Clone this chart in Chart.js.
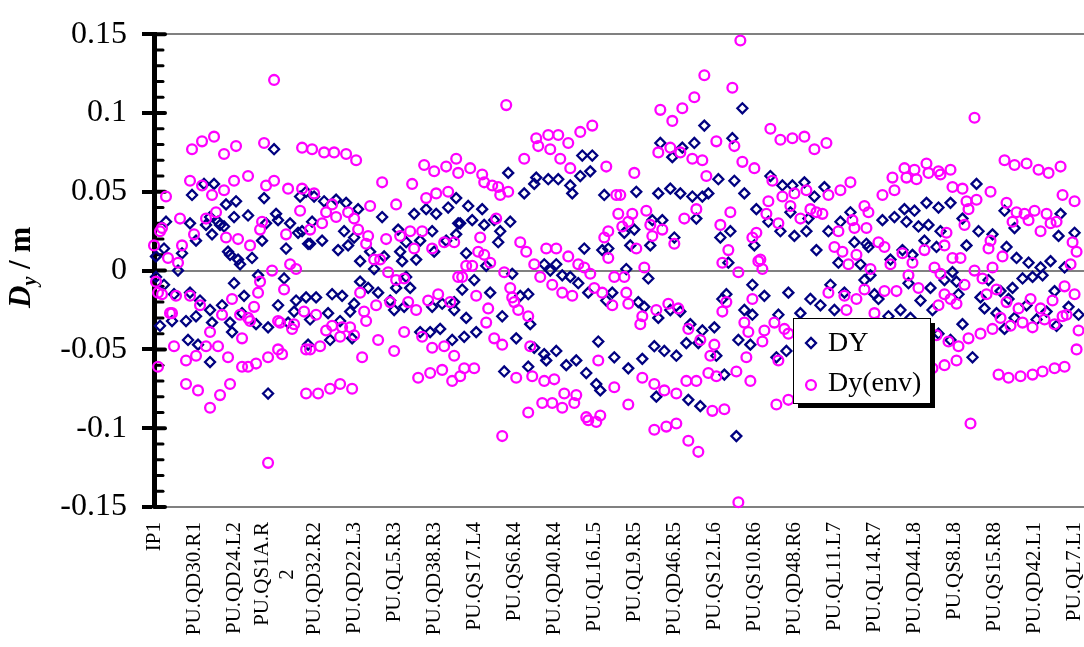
<!DOCTYPE html>
<html><head><meta charset="utf-8">
<script src="https://cdn.jsdelivr.net/npm/chart.js@4.4.1/dist/chart.umd.min.js"></script>
<style>
html,body{margin:0;padding:0;overflow:hidden;background:#fff;width:1084px;height:647px}
#wrap{position:absolute;left:0;top:0;width:1115px;height:647px}
</style></head>
<body><div id="wrap"><canvas id="c" width="1115" height="647"></canvas></div>
<script>
// element index (along the ring) of each labelled pick-up
const tickPos = [0,20,40,54,80,100,120,140,160,180,200,220,240,260,280,300,320,340,360,380,400,420,440,460];
const tickLabels = ['IP1','PU.QD30.R1','PU.QD24.L2',['PU.QS1A.R','2         '],'PU.QD32.R2','PU.QD22.L3','PU.QL5.R3','PU.QD38.R3','PU.QS17.L4','PU.QS6.R4','PU.QD40.R4','PU.QL16.L5','PU.QL9.R5','PU.QD46.R5','PU.QS12.L6','PU.QS10.R6','PU.QD48.R6','PU.QL11.L7','PU.QL14.R7','PU.QD44.L8','PU.QS8.L8','PU.QS15.R8','PU.QD42.L1','PU.QL7.L1'];
const yTickValues = [-0.15,-0.14,-0.13,-0.12,-0.11,-0.10,-0.09,-0.08,-0.07,-0.06,-0.05,-0.04,-0.03,-0.02,-0.01,0,0.01,0.02,0.03,0.04,0.05,0.06,0.07,0.08,0.09,0.10,0.11,0.12,0.13,0.14,0.15];
const seriesNames = ['DY','Dy(env)'];
const yTitleParts = ['D','y',' / m'];

// DY: [element index, value in m]
const dyData = [
[60,.077],[19,.048],[25,.055],[30,.055],[36,.042],[41,.044],[55,.046],[61,.036],[73,.047],[76,.050],[18,.030],[6,.031],[29,.023],[35,.028],[40,.034],[47,.035],[56,.030],[68,.030],[72,.024],[54,.019],[66,.014],[37,.012],[42,.007],[49,.008],[5,.014],[12,.000],[1,.009],[21,.019],[32,.031],[77,.017],[14,.011],[26,.029],[28,.034],[33,.029],[38,.010],[43,.004],[62,.032],
[1,-.004],[5,-.009],[10,-.015],[18,-.014],[23,-.019],[28,-.025],[34,-.022],[40,-.008],[45,-.016],[52,-.003],[38,-.033],[16,-.032],[9,-.032],[21,-.029],[29,-.033],[44,-.027],[51,-.034],[57,-.036],[62,-.022],[65,-.005],[71,-.019],[76,-.017],[67,-.033],[3,-.035],[17,-.044],[22,-.047],[28,-.058],[39,-.039],[57,-.078],[77,-.047],[70,-.026],
[80,.047],[85,.044],[91,.045],[96,.043],[102,.039],[114,.034],[130,.036],[136,.039],[141,.036],[147,.040],[151,.046],[74,.025],[79,.031],[78,.017],[84,.019],[92,.013],[95,.025],[97,.016],[100,.021],[103,.006],[108,.012],[110,.001],[115,.009],[122,.026],[123,.012],[124,.006],[126,.018],[131,.007],[133,.019],[139,.025],[140,.012],[146,.019],[152,.030],
[81,-.017],[89,-.015],[94,-.016],[100,-.021],[103,-.007],[107,-.011],[112,-.014],[118,-.019],[121,-.011],[126,-.004],[128,-.011],[98,-.026],[87,-.027],[78,-.031],[93,-.032],[120,-.025],[125,-.023],[139,-.023],[144,-.021],[150,-.020],[88,-.044],[99,-.043],[133,-.039],[138,-.039],[143,-.037],[149,-.044],
[177,.062],[185,.049],[191,.059],[197,.058],[202,.058],[208,.054],[209,.049],[190,.055],[214,.073],[219,.073],[213,.060],[218,.063],[225,.048],[157,.041],[164,.039],[153,.030],[159,.032],[165,.029],[170,.032],[178,.031],[173,.025],[172,.018],[156,.011],[151,.023],[215,.014],[224,.013],[195,.004],[201,.004],[198,.000],[204,-.003],[208,-.004],[212,-.008],[166,.003],[179,-.002],[160,-.006],[154,-.012],[168,-.014],[187,-.015],[183,-.016],[217,-.014],[226,-.019],[150,-.025],[156,-.030],[174,-.029],[161,-.039],[155,-.042],[188,-.034],[181,-.043],[222,-.045],[190,-.049],[195,-.053],[201,-.051],[196,-.057],[206,-.060],[211,-.057],[216,-.065],[221,-.072],[223,-.076],[175,-.064],[187,-.061],
[294,.103],[275,.092],[289,.084],[270,.081],[253,.081],[264,.078],[259,.072],[282,.058],[290,.057],[295,.049],[301,.039],[241,.050],[252,.049],[258,.052],[263,.049],[269,.047],[274,.047],[277,.049],[271,.033],[254,.032],[249,.032],[240,.026],[235,.024],[260,.021],[248,.016],[227,.014],[238,.016],[283,.021],[288,.025],[287,.005],[300,.016],
[236,.001],[247,-.005],[229,-.014],[242,-.020],[245,-.023],[252,-.030],[258,-.025],[263,-.026],[268,-.034],[274,-.038],[280,-.036],[281,-.054],[285,-.066],[284,-.018],[286,-.015],[295,-.025],[299,-.009],[292,-.044],[298,-.047],[230,-.055],[237,-.062],[244,-.056],[250,-.048],[255,-.051],[261,-.054],[266,-.046],[272,-.046],[251,-.080],[267,-.082],[273,-.086],[291,-.105],
[308,.060],[314,.054],[319,.054],[325,.056],[330,.047],[335,.053],[307,.031],[313,.025],[318,.037],[320,.022],[326,.025],[327,.033],[337,.025],[331,.013],[343,.031],[348,.037],[342,.005],[350,.018],[356,.017],[357,.015],[364,.032],[370,.034],[375,.039],[376,.031],[380,.038],[368,.007],[374,.013],[353,.004],[358,-.003],
[305,-.016],[317,-.014],[328,-.018],[333,-.022],[338,-.009],[340,-.025],[345,-.014],[355,-.006],[360,-.015],[362,-.018],[367,-.029],[373,-.025],[378,-.030],[312,-.028],[323,-.027],[299,-.028],[316,-.051],[311,-.055],
[411,.055],[386,.043],[392,.040],[398,.043],[404,.033],[425,.038],[430,.027],[453,.036],[452,.022],[460,.024],[382,.028],[387,.029],[393,.025],[412,.025],[419,.023],[385,.019],[391,.015],[406,.016],[426,.015],[431,.008],[437,.005],[443,.002],[448,.006],[379,.010],[399,-.001],[455,.002],[401,-.007],[417,-.006],[429,-.011],[434,-.005],[439,-.004],[444,-.003],[423,-.013],[388,-.011],[395,-.006],[377,-.008],[383,-.019],[413,-.017],
[386,-.042],[392,-.040],[398,-.044],[404,-.034],[409,-.055],[415,-.024],[421,-.027],[425,-.037],[430,-.030],[436,-.022],[441,-.031],[446,-.026],[451,-.035],[457,-.023],[462,-.028],[389,-.025],[402,-.015],[427,-.018],[450,-.013]
];

// Dy(env): [element index, value in m]
const envData = [
[60,.121],[19,.077],[24,.082],[30,.085],[35,.074],[41,.079],[55,.081],[74,.078],[18,.057],[24,.054],[29,.048],[35,.051],[40,.057],[47,.060],[56,.054],[60,.057],[67,.052],[74,.052],[6,.047],[13,.033],[26,.033],[31,.037],[73,.038],[4,.027],[3,.025],[20,.023],[36,.021],[42,.020],[48,.016],[54,.031],[53,.026],[66,.023],[78,.026],[0,.016],[14,.016],[7,.008],[12,.005],[59,.000],[68,.004],[71,.001],
[1,-.007],[2,-.014],[4,-.015],[11,-.016],[18,-.016],[23,-.022],[8,-.027],[9,-.027],[34,-.028],[39,-.018],[47,-.030],[48,-.032],[50,-.023],[65,-.012],[62,-.032],[63,-.033],[70,-.034],[69,-.037],[75,-.026],[28,-.039],[44,-.043],[10,-.048],[16,-.057],[21,-.054],[26,-.048],[32,-.048],[37,-.055],[44,-.061],[47,-.061],[51,-.059],[57,-.055],[62,-.050],[64,-.053],[76,-.050],[2,-.061],[16,-.072],[22,-.076],[28,-.087],[33,-.079],[38,-.072],[57,-.122],[76,-.078],[52,-.014],[53,-.007],[43,-.028],
[79,.077],[85,.075],[90,.075],[96,.074],[101,.070],[135,.067],[140,.063],[146,.066],[151,.071],[152,.062],[80,.049],[114,.056],[129,.055],[108,.041],[121,.042],[136,.046],[141,.049],[147,.050],[89,.042],[86,.037],[91,.034],[97,.037],[100,.033],[102,.026],[84,.030],[107,.022],[106,.017],[116,.020],[123,.022],[128,.025],[134,.025],[130,.014],[139,.014],[145,.018],[150,.018],[110,.007],[113,.007],
[117,-.001],[121,-.006],[125,-.005],[152,-.004],[103,-.014],[111,-.022],[118,-.020],[127,-.020],[131,-.025],[137,-.019],[142,-.015],[148,-.020],[81,-.028],[105,-.026],[106,-.032],[86,-.038],[89,-.035],[94,-.036],[98,-.036],[93,-.042],[100,-.041],[125,-.039],[134,-.042],[112,-.044],[120,-.051],[104,-.055],[78,-.050],[83,-.048],[139,-.049],[145,-.048],[150,-.054],[132,-.068],[138,-.065],[144,-.063],[149,-.070],[82,-.078],[88,-.075],[93,-.072],[99,-.075],
[176,.105],[191,.084],[197,.086],[202,.086],[207,.081],[213,.088],[219,.092],[192,.079],[198,.077],[203,.071],[208,.065],[185,.071],[226,.066],[158,.065],[164,.061],[165,.056],[169,.054],[172,.053],[173,.048],[177,.050],[171,.033],[163,.021],[183,.018],[186,.012],[196,.014],[201,.014],[207,.009],[212,.004],[215,.002],[218,-.002],[225,.021],[227,.008],[162,.012],[165,.010],[168,.005],[159,.003],[156,.003],[154,-.004],[175,-.001],[190,.004],[193,-.004],[199,-.009],[204,-.014],[209,-.016],[220,-.011],[224,-.014],[178,-.011],[179,-.017],[180,-.020],[182,-.025],[187,-.029],[161,-.016],[167,-.024],[166,-.033],[170,-.043],[174,-.047],[188,-.048],[155,-.062],[160,-.062],[153,-.067],[181,-.068],[189,-.067],[195,-.070],[200,-.069],[205,-.078],[211,-.079],[194,-.084],[199,-.084],[204,-.087],[210,-.084],[187,-.090],[216,-.093],[217,-.095],[221,-.096],[223,-.092],[222,-.057],[174,-.105],
[293,.146],[275,.124],[289,.116],[270,.110],[253,.102],[264,.103],[259,.095],[281,.082],[290,.079],[252,.075],[258,.078],[263,.075],[269,.071],[274,.070],[294,.069],[300,.065],[276,.060],[240,.062],[231,.048],[233,.048],[232,.036],[239,.036],[246,.038],[237,.031],[234,.028],[227,.025],[248,.029],[249,.022],[254,.026],[260,.017],[265,.033],[271,.039],[288,.037],[283,.029],[287,.013],[284,.005],[301,.024],[302,.006],[245,.002],[292,-.001],[241,.014],
[230,-.004],[235,-.004],[236,-.014],[237,-.021],[229,-.022],[244,-.029],[243,-.034],[251,-.025],[257,-.021],[262,-.024],[267,-.037],[273,-.044],[280,-.047],[278,-.054],[286,-.020],[284,-.026],[295,-.033],[297,-.039],[296,-.055],[299,-.018],[230,-.074],[244,-.068],[250,-.072],[255,-.076],[261,-.078],[266,-.070],[271,-.070],[277,-.065],[281,-.067],[291,-.064],[298,-.070],[237,-.085],[279,-.089],[285,-.088],[250,-.101],[256,-.099],[261,-.097],[267,-.108],[272,-.115],[292,-.147],
[308,.090],[313,.083],[319,.084],[325,.085],[330,.077],[336,.081],[309,.057],[314,.047],[320,.049],[326,.051],[337,.048],[343,.051],[348,.056],[369,.059],[375,.065],[380,.064],[376,.059],[370,.051],[364,.048],[318,.041],[307,.044],[306,.036],[323,.033],[328,.039],[331,.037],[334,.036],[349,.032],[355,.041],[357,.037],[356,.027],[350,.027],[342,.025],[312,.030],[299,.021],[340,.015],[344,.012],[347,.004],[351,.010],[362,.018],[365,.015],[368,.004],[374,.011],[379,.005],[358,.001],[377,-.003],[303,.007],[304,.001],
[337,-.014],[345,-.016],[355,-.012],[351,-.018],[365,-.013],[371,-.013],[346,-.025],[360,-.027],[361,-.033],[310,-.033],[315,-.037],[317,-.040],[326,-.035],[305,-.038],[304,-.045],[312,-.057],[311,-.085],[317,-.082],
[410,.097],[425,.070],[430,.067],[436,.068],[442,.064],[447,.062],[453,.066],[386,.068],[392,.063],[398,.064],[381,.058],[387,.062],[393,.061],[399,.053],[404,.052],[418,.050],[454,.048],[460,.044],[406,.044],[411,.045],[407,.039],[426,.043],[431,.037],[435,.036],[440,.038],[446,.036],[451,.031],[429,.031],[437,.032],[443,.025],[448,.030],[405,.029],[396,.024],[395,.016],[418,.019],[417,.014],[424,.009],[419,.002],[410,.000],[403,.008],[399,.008],[385,.013],[390,.002],[393,-.002],[459,.018],[461,.012],[458,.004],[382,-.011],[395,-.015],[401,-.021],[416,-.015],[455,-.010],
[389,-.062],[395,-.060],[401,-.057],[422,-.066],[427,-.068],[433,-.067],[439,-.066],[444,-.064],[450,-.062],[455,-.061],[461,-.050],[408,-.097],[391,-.041],[397,-.045],[402,-.048],[407,-.043],[413,-.040],[419,-.037],[423,-.030],[428,-.035],[434,-.033],[439,-.036],[445,-.031],[450,-.034],[456,-.028],[462,-.038],[392,-.022],[398,-.018],[405,-.009],[414,-.005],[421,-.012],[426,-.020],[432,-.024],[438,-.018],[443,-.024],[449,-.019],[454,-.029],[460,-.015]
];

const SERIF = "'Liberation Serif','Times New Roman',serif";
const NAVY = '#000080', MAGENTA = '#FF00FF';
const DIAMOND_R = 5, CIRCLE_R = 4.9, MARK_W = 2.3;
const isMajor = v => Math.abs(Math.round(v*100)) % 5 === 0;

function drawMarker(ctx, style, x, y, r, color){
  ctx.save();
  ctx.strokeStyle = color; ctx.lineWidth = MARK_W;
  ctx.beginPath();
  if (style === 'rectRot') { ctx.moveTo(x-r,y); ctx.lineTo(x,y-r); ctx.lineTo(x+r,y); ctx.lineTo(x,y+r); ctx.closePath(); }
  else { ctx.arc(x,y,r,0,Math.PI*2); }
  ctx.stroke(); ctx.restore();
}

const decor = {
  id:'decor',
  beforeDatasetsDraw(chart){
    const ctx = chart.ctx, ys = chart.scales.y, left = chart.chartArea.left;
    ctx.save(); ctx.strokeStyle = '#000'; ctx.lineCap = 'round';
    yTickValues.forEach(v=>{
      const y = ys.getPixelForValue(v);
      const maj = isMajor(v);
      ctx.lineWidth = maj ? 4 : 3;
      ctx.beginPath(); ctx.moveTo(left, y); ctx.lineTo(left + (maj ? 11 : 9), y); ctx.stroke();
    });
    ctx.restore();
  },
  afterDraw(chart){
    const ctx = chart.ctx;
    // y axis title  D_y / m
    ctx.save();
    ctx.translate(30, 308); ctx.rotate(-Math.PI/2);
    ctx.fillStyle = '#000'; ctx.textBaseline = 'alphabetic'; ctx.textAlign = 'left';
    ctx.font = "bold italic 31px " + SERIF;
    ctx.fillText(yTitleParts[0], 0, 0);
    let w = ctx.measureText(yTitleParts[0]).width;
    ctx.font = "bold italic 20px " + SERIF;
    ctx.fillText(yTitleParts[1], w, 6);
    w += ctx.measureText(yTitleParts[1]).width;
    ctx.font = "bold 31px " + SERIF;
    ctx.fillText(yTitleParts[2], w, 0);
    ctx.restore();
    // legend box with shadow
    const lx = 793, ly = 318, lw = 137, lh = 85;
    ctx.save();
    ctx.fillStyle = '#000'; ctx.fillRect(lx+5, ly+5, lw, lh);
    ctx.fillStyle = '#fff'; ctx.fillRect(lx, ly, lw, lh);
    ctx.strokeStyle = '#000'; ctx.lineWidth = 1; ctx.strokeRect(lx+0.5, ly+0.5, lw, lh);
    const ds = chart.data.datasets;
    drawMarker(ctx, 'rectRot', 811, 343, DIAMOND_R, NAVY);
    drawMarker(ctx, 'circle', 811, 385, CIRCLE_R, MAGENTA);
    ctx.fillStyle = '#000'; ctx.font = "28px " + SERIF; ctx.textBaseline = 'alphabetic';
    ctx.fillText(ds[0].label, 828, 351);
    ctx.fillText(ds[1].label, 828, 391);
    ctx.restore();
  }
};

new Chart(document.getElementById('c'), {
  type: 'scatter',
  data: {
    datasets: [
      { label: seriesNames[0], data: dyData.map(p=>({x:p[0], y:p[1]})), pointStyle:'rectRot', pointRadius:DIAMOND_R,
        pointBorderWidth:MARK_W, borderColor:NAVY, pointBorderColor:NAVY, backgroundColor:'rgba(0,0,0,0)', pointBackgroundColor:'rgba(0,0,0,0)', order:1, clip:false },
      { label: seriesNames[1], data: envData.map(p=>({x:p[0], y:p[1]})), pointStyle:'circle', pointRadius:CIRCLE_R,
        pointBorderWidth:MARK_W, borderColor:MAGENTA, pointBorderColor:MAGENTA, backgroundColor:'rgba(0,0,0,0)', pointBackgroundColor:'rgba(0,0,0,0)', order:0, clip:false }
    ]
  },
  options: {
    responsive:false, animation:false, events:[],
    layout:{ padding:{ top:19, right:6, left:0, bottom:0 } },
    plugins:{ legend:{display:false}, tooltip:{enabled:false}, title:{display:false} },
    scales:{
      x:{
        type:'linear', min:0, max:475, position:'bottom',
        afterBuildTicks: s => { s.ticks = tickPos.map(v=>({value:v})); },
        afterFit: s => { s.height = 140; },
        grid:{ display:false, drawTicks:false },
        border:{ display:false },
        ticks:{ autoSkip:false, maxRotation:90, minRotation:90, padding:15, color:'#000',
          font:{ family:SERIF, size:21 }, callback:(v,i)=>tickLabels[i] }
      },
      y:{
        type:'linear', min:-0.15, max:0.15,
        afterBuildTicks: s => { s.ticks = yTickValues.map(v=>({value:v})); },
        afterFit: s => { s.width = 154; },
        grid:{
          color: c => { const v = c.tick ? c.tick.value : 1; return (Math.abs(v) < 1e-9 || Math.abs(Math.abs(v)-0.15) < 1e-9) ? '#808080' : 'rgba(0,0,0,0)'; },
          lineWidth: 2, drawTicks:true, tickLength:12, tickWidth:4,
          tickColor: c => (c.tick && isMajor(c.tick.value)) ? '#000' : 'rgba(0,0,0,0)'
        },
        border:{ display:true, color:'#000', width:5 },
        ticks:{ autoSkip:false, padding:15, color:'#000', font:{ family:SERIF, size:32 },
          callback: v => isMajor(v) ? String(+v.toFixed(2)) : '' }
      }
    }
  },
  plugins:[decor]
});
</script>
</body></html>
